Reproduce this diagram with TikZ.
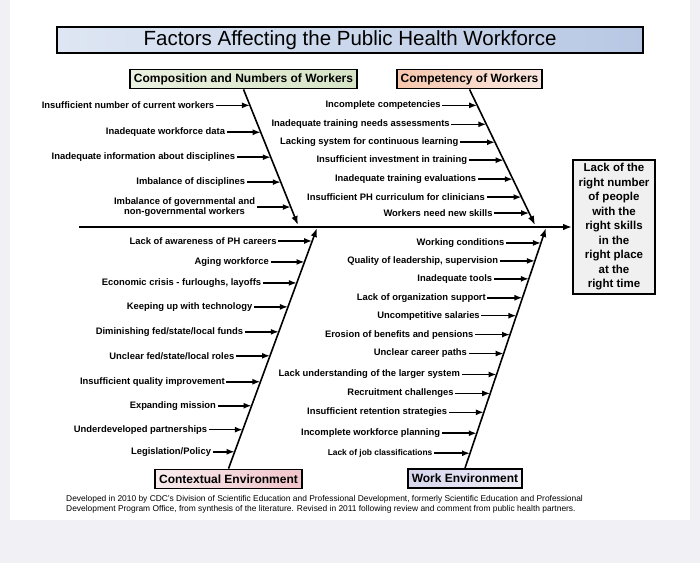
\documentclass[tikz,border=0pt]{standalone}
\usepackage{fontspec}
\setmainfont{Liberation Sans}
\usetikzlibrary{arrows.meta, calc}

\definecolor{pagegray}{RGB}{240,240,245}
\definecolor{titleL}{RGB}{222,230,243}
\definecolor{titleR}{RGB}{184,200,228}
\definecolor{compL}{RGB}{234,241,224}
\definecolor{compR}{RGB}{214,228,198}
\definecolor{competL}{RGB}{247,198,172}
\definecolor{competR}{RGB}{248,232,226}
\definecolor{contextL}{RGB}{248,236,238}
\definecolor{contextR}{RGB}{240,196,202}
\definecolor{workL}{RGB}{214,214,238}
\definecolor{workR}{RGB}{240,238,248}
\definecolor{effectgray}{RGB}{240,240,240}

\begin{document}
\begin{tikzpicture}[x=1pt, y=-1pt,
    cause/.style={font=\fontsize{9.4}{10.5}\selectfont\bfseries, inner sep=1.5pt, align=center, anchor=east},
    rib/.style={line width=1.6pt, -{Latex[length=8pt,width=6pt]}},
    bone/.style={line width=1.6pt, -{Latex[length=9pt,width=6.5pt]}},
    catbox/.style={draw, line width=1.8pt, font=\fontsize{12}{14}\selectfont\bfseries, inner sep=2pt, minimum height=19pt}]

    \fill[pagegray] (0,0) rectangle (700,563);
    \fill[white] (10,0) rectangle (690,520);

    \node[draw, line width=1.8pt, left color=titleL, right color=titleR, minimum width=586pt, minimum height=26pt,
          font=\fontsize{20.5}{24}\selectfont] (title) at (350,40) {Factors Affecting the Public Health Workforce};

    \node[catbox, left color=compL, right color=compR, minimum width=227pt] (comp) at (243.5,79) {Composition and Numbers of Workers};
    \node[catbox, left color=competL, right color=competR, minimum width=145pt] (compet) at (469.5,79) {Competency of Workers};
    \node[catbox, left color=contextL, right color=contextR, minimum width=147pt] (context) at (228.5,479) {Contextual Environment};
    \node[catbox, left color=workL, right color=workR, minimum width=114pt] (work) at (465,478.5) {Work Environment};

    \node[draw, line width=1.6pt, fill=effectgray, minimum width=82pt, minimum height=134pt, align=center,
          font=\fontsize{11.5}{14.5}\selectfont\bfseries] (effect) at (614,227)
          {Lack of the\\right number\\of people\\with the\\right skills\\in the\\right place\\at the\\right time};

    % spine and bones
    \coordinate (spineL) at (79,227);
    \draw[line width=2pt, -{Latex[length=9pt,width=6.5pt]}] (spineL) -- (effect.west);

    \coordinate (ulTip) at (298,225);
    \coordinate (urTip) at (535,225);
    \coordinate (llTip) at (317,228);
    \coordinate (lrTip) at (546,228);

    \draw[bone] (comp.south) -- (ulTip);
    \draw[bone] (compet.south) -- (urTip);
    \draw[bone] (context.north) -- (llTip);
    \draw[bone] (work.north) -- (lrTip);

    % composition and numbers
    \foreach \y/\txt [count=\i] in {105/Insufficient number of current workers,
            132/Inadequate workforce data,
            157/Inadequate information about disciplines,
            182/Imbalance of disciplines,
            207/{Imbalance of governmental and\\non-governmental workers}} {
        \pgfmathsetmacro\t{(\y-89)/136}
        \path (comp.south) -- (ulTip) coordinate[pos=\t] (ul\i);
        \node[cause] (ulc\i) at ([xshift=-34pt]ul\i) {\txt};
        \draw[rib] (ulc\i) -- (ul\i);
    }

    % competency
    \foreach \y/\txt [count=\i] in {105/Incomplete competencies,
            124/Inadequate training needs assessments,
            142/Lacking system for continuous learning,
            160/Insufficient investment in training,
            179/Inadequate training evaluations,
            197/Insufficient PH curriculum for clinicians,
            213/Workers need new skills} {
        \pgfmathsetmacro\t{(\y-89)/136}
        \path (compet.south) -- (urTip) coordinate[pos=\t] (ur\i);
        \node[cause] (urc\i) at ([xshift=-35pt]ur\i) {\txt};
        \draw[rib] (urc\i) -- (ur\i);
    }

    % contextual environment
    \foreach \y/\txt [count=\i] in {241/Lack of awareness of PH careers,
            262/Aging workforce,
            283/{Economic crisis - furloughs, layoffs},
            307/Keeping up with technology,
            332/{Diminishing fed/state/local funds},
            356/{Unclear fed/state/local roles},
            382/Insufficient quality improvement,
            406/Expanding mission,
            430/Underdeveloped partnerships} {
        \pgfmathsetmacro\t{(469-\y)/241}
        \path (context.north) -- (llTip) coordinate[pos=\t] (ll\i);
        \node[cause] (llc\i) at ([xshift=-34pt]ll\i) {\txt};
        \draw[rib] (llc\i) -- (ll\i);
    }
    \path (context.north) -- (llTip) coordinate[pos=0.07] (ll10);
    \node[cause] (llc10) at ([xshift=-22pt]ll10) {Legislation/Policy};
    \draw[rib] (llc10) -- (ll10);

    % work environment
    \foreach \y/\txt [count=\i] in {243/Working conditions,
            261/{Quality of leadership, supervision},
            279/Inadequate tools,
            298/Lack of organization support,
            316/Uncompetitive salaries,
            335/Erosion of benefits and pensions,
            354/Unclear career paths,
            375/Lack understanding of the larger system,
            394/Recruitment challenges,
            413/Insufficient retention strategies,
            434/Incomplete workforce planning} {
        \pgfmathsetmacro\t{(469-\y)/241}
        \path (work.north) -- (lrTip) coordinate[pos=\t] (lr\i);
        \node[cause] (lrc\i) at ([xshift=-35pt]lr\i) {\txt};
        \draw[rib] (lrc\i) -- (lr\i);
    }
    \path (work.north) -- (lrTip) coordinate[pos=0.062] (lr12);
    \node[cause, font=\fontsize{8.4}{10}\selectfont\bfseries] (lrc12) at ([xshift=-36pt]lr12) {Lack of job classifications};
    \draw[rib] (lrc12) -- (lr12);

    \node[anchor=north west, align=left, inner sep=0pt, font=\fontsize{8.4}{10.5}\selectfont] (note) at (66,495)
        {Developed in 2010 by CDC's Division of Scientific Education and Professional Development, formerly Scientific Education and Professional\\
         Development Program Office, from synthesis of the literature. Revised in 2011 following review and comment from public health partners.};
\end{tikzpicture}
\end{document}
